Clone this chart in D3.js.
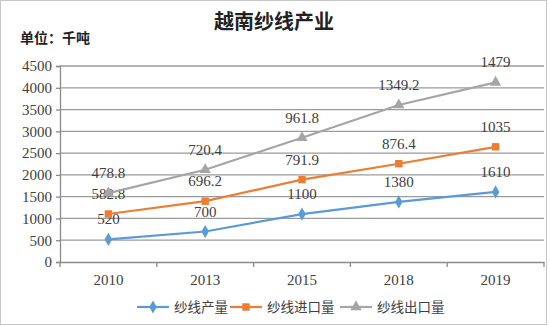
<!DOCTYPE html>
<html><head><meta charset="utf-8">
<script src="https://cdn.jsdelivr.net/npm/d3@7"></script>
<style>body{margin:0;background:#fff}svg{display:block}</style>
</head><body>
<svg id="c" width="550" height="326"></svg>
<script>
const categories = ["2010","2013","2015","2018","2019"];
const production = [520, 700, 1100, 1380, 1610];
const imports = [582.8, 696.2, 791.9, 876.4, 1035];
const exports = [478.8, 720.4, 961.8, 1349.2, 1479];
const seriesNames = ["纱线产量","纱线进口量","纱线出口量"];
const yTicks = [0,500,1000,1500,2000,2500,3000,3500,4000,4500];

const colors = ["#5B9BD5","#ED7D31","#A5A5A5"];
const svg = d3.select("#c");
const W = 550, H = 326;
const m = {l:60, r:6, t:66, b:64};
const x = d3.scaleBand().domain(categories).range([m.l, W - m.r]);
const y = d3.scaleLinear().domain([0,4500]).range([H - m.b, m.t]);

const numFont = "'Liberation Serif', serif";
const cjkFont = "'Noto Sans CJK SC', sans-serif";
const textColor = "#404040";

// border
svg.append("rect").attr("x",0.5).attr("y",0.5).attr("width",546).attr("height",324)
  .attr("fill","none").attr("stroke","#c8c8c8");

// title
svg.append("text").attr("x",274).attr("y",29).attr("text-anchor","middle")
  .attr("font-family",cjkFont).attr("font-weight","bold").attr("font-size",20)
  .attr("fill","#222").text("越南纱线产业");
svg.append("text").attr("x",20).attr("y",43)
  .attr("font-family",cjkFont).attr("font-weight","bold").attr("font-size",14)
  .attr("fill","#222").text("单位：千吨");

// gridlines
svg.append("g").selectAll("line").data(yTicks.filter(d=>d>0)).join("line")
  .attr("x1",m.l).attr("x2",W-m.r).attr("y1",d=>y(d)).attr("y2",d=>y(d))
  .attr("stroke","#9b9b9b").attr("stroke-width",1.3);

// y axis
const ya = svg.append("g").attr("transform",`translate(${m.l},0)`)
  .call(d3.axisLeft(y).tickValues(yTicks).tickFormat(d3.format("d")).tickSize(4).tickPadding(4));
ya.select(".domain").attr("stroke","#8a8a8a").attr("stroke-width",1.3);
ya.selectAll(".tick line").attr("stroke","#8a8a8a").attr("stroke-width",1.3);
ya.selectAll("text").attr("font-family",numFont).attr("font-size",15).attr("fill",textColor);

// x axis
const xa = svg.append("g").attr("transform",`translate(0,${y(0)})`)
  .call(d3.axisBottom(x).tickSize(0).tickPadding(12));
xa.select(".domain").attr("stroke","#8a8a8a").attr("stroke-width",1.3);
xa.selectAll("text").attr("font-family",numFont).attr("font-size",15).attr("fill",textColor);
const bounds = categories.map(c=>x(c)).concat([x(categories[categories.length-1])+x.bandwidth()]);
xa.selectAll(".bt").data(bounds).join("line").attr("class","bt")
  .attr("x1",d=>d).attr("x2",d=>d).attr("y1",0).attr("y2",5)
  .attr("stroke","#8a8a8a").attr("stroke-width",1.3);

// stacked data
const rows = categories.map((c,i)=>({cat:c, a:production[i], b:imports[i], c2:exports[i]}));
const stack = d3.stack().keys(["a","b","c2"])(rows);
const raw = [production, imports, exports];
const cx = c => x(c) + x.bandwidth()/2;

const line = d3.line().x(d=>cx(d.data.cat)).y(d=>y(d[1]));
const symTypes = [d3.symbolDiamond, d3.symbolSquare, d3.symbolTriangle];
const symSizes = [50, 55, 55];

stack.forEach((s,k)=>{
  svg.append("path").datum(s).attr("d",line).attr("fill","none")
    .attr("stroke",colors[k]).attr("stroke-width",2.2);
  svg.append("g").selectAll("path").data(s).join("path")
    .attr("transform",d=>`translate(${cx(d.data.cat)},${y(d[1])})`)
    .attr("d",d3.symbol().type(symTypes[k]).size(symSizes[k]))
    .attr("fill",colors[k]);
  svg.append("g").selectAll("text").data(s).join("text")
    .attr("x",d=>cx(d.data.cat)).attr("y",d=>y(d[1])-15)
    .attr("text-anchor","middle").attr("font-family",numFont).attr("font-size",15)
    .attr("fill",textColor).text((d,i)=>raw[k][i]);
});

// legend
const legX = [137, 230, 340];
const legY = 307;
seriesNames.forEach((n,k)=>{
  const g = svg.append("g").attr("transform",`translate(${legX[k]},${legY})`);
  g.append("line").attr("x1",0).attr("x2",32).attr("y1",0).attr("y2",0)
    .attr("stroke",colors[k]).attr("stroke-width",2.2);
  g.append("path").attr("transform","translate(16,0)")
    .attr("d",d3.symbol().type(symTypes[k]).size(symSizes[k])).attr("fill",colors[k]);
  g.append("text").attr("x",37).attr("y",5).attr("font-family",cjkFont).attr("font-size",13.5)
    .attr("fill",textColor).text(n);
});
</script>
</body></html>
